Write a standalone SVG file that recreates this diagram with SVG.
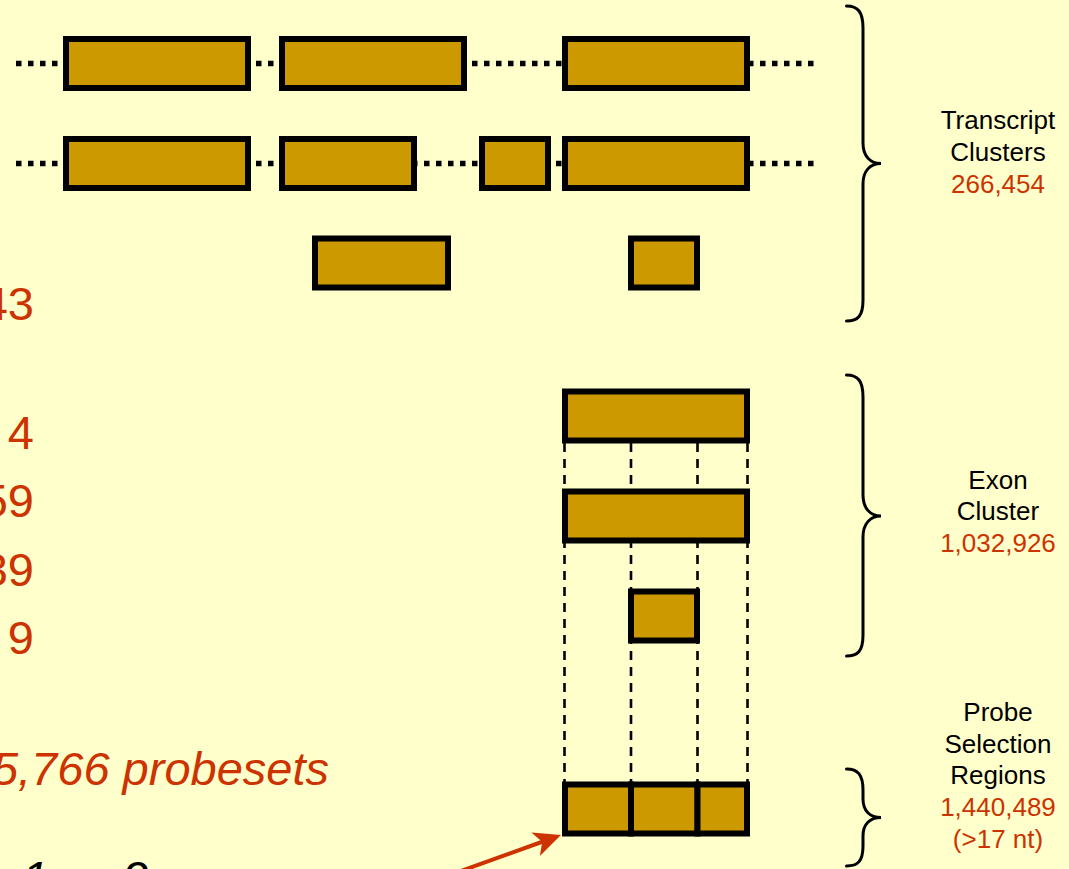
<svg xmlns="http://www.w3.org/2000/svg" width="1069" height="869" viewBox="0 0 1069 869">
  <defs>
    <style>
      .seg { fill: #CC9900; stroke: #000; stroke-width: 6; }
      .intron { stroke: #000; stroke-width: 5.5; stroke-dasharray: 5.5 6.5; fill: none; }
      .guide { stroke: #000; stroke-width: 2.6; stroke-dasharray: 9 7; fill: none; }
      .brace { stroke: #000; stroke-width: 3; fill: none; stroke-linecap: round; }
      .lbl { font-family: "Liberation Sans", Arial, sans-serif; font-size: 26px; text-anchor: middle; fill: #000; }
      .num { fill: #CC3300; }
      .big { font-family: "Liberation Sans", Arial, sans-serif; font-size: 47px; fill: #CC3300; text-anchor: end; }
      .itl { font-style: italic; }
    </style>
  </defs>

  <rect x="0" y="0" width="1069" height="869" fill="#FFFFCC"/>

  <!-- connectors: intron lines, exon guides, arrow -->
  <g id="connectors">
    <line class="intron" x1="16" y1="63.5" x2="814" y2="63.5"/>
    <line class="intron" x1="16" y1="163.5" x2="814" y2="163.5"/>
    <line class="guide" x1="564.5" y1="443" x2="564.5" y2="784"/>
    <line class="guide" x1="631" y1="443" x2="631" y2="784"/>
    <line class="guide" x1="697.5" y1="443" x2="697.5" y2="784"/>
    <line class="guide" x1="747.5" y1="443" x2="747.5" y2="784"/>
    <line x1="440" y1="878.5" x2="543" y2="841.5" stroke="#CC3300" stroke-width="4"/>
    <polygon points="561,835 531.3,832.5 542.2,841.8 539.9,856" fill="#CC3300"/>
  </g>

  <!-- transcript row 1 -->
  <g id="transcript-1">
    <rect class="seg" x="66" y="39" width="182" height="49"/>
    <rect class="seg" x="282" y="39" width="182" height="49"/>
    <rect class="seg" x="565" y="39" width="182" height="49"/>
  </g>

  <!-- transcript row 2 -->
  <g id="transcript-2">
    <rect class="seg" x="66" y="139" width="182" height="49"/>
    <rect class="seg" x="282" y="139" width="132" height="49"/>
    <rect class="seg" x="482" y="139" width="66" height="49"/>
    <rect class="seg" x="565" y="139" width="182" height="49"/>
  </g>

  <!-- transcript row 3 -->
  <g id="transcript-3">
    <rect class="seg" x="315" y="238.5" width="133" height="49"/>
    <rect class="seg" x="631" y="238.5" width="66" height="49"/>
  </g>

  <!-- exon cluster -->
  <g id="exon-cluster">
    <rect class="seg" x="565" y="391.5" width="182" height="49"/>
    <rect class="seg" x="565" y="491.5" width="182" height="49"/>
    <rect class="seg" x="631" y="591.5" width="66" height="49"/>
  </g>

  <!-- probe selection regions -->
  <g id="psr">
    <rect class="seg" x="565" y="784.5" width="66" height="49"/>
    <rect class="seg" x="631" y="784.5" width="66.5" height="49"/>
    <rect class="seg" x="697.5" y="784.5" width="49.5" height="49"/>
  </g>

  <!-- braces -->
  <g id="brace-transcript">
    <path class="brace" d="M846.5,6 C858,6 863,12 863,28 L863,143 C863,156 870,163.5 881,163.5 C870,163.5 863,171 863,184 L863,300 C863,316 858,321 846.5,321"/>
  </g>
  <g id="brace-exon">
    <path class="brace" d="M846.5,375 C858,375 863,381 863,397 L863,495 C863,508 870,516 881,516 C870,516 863,524 863,537 L863,635 C863,651 858,656 846.5,656"/>
  </g>
  <g id="brace-psr">
    <path class="brace" d="M846.5,769 C858,769 863,775 863,790 L863,799 C863,811 870,817.5 881,817.5 C870,817.5 863,824 863,836 L863,846 C863,861 858,866 846.5,866"/>
  </g>

  <!-- right-hand labels -->
  <g id="label-transcript">
    <text class="lbl" x="998" y="129">Transcript</text>
    <text class="lbl" x="998" y="161">Clusters</text>
    <text class="lbl num" x="998" y="192.5">266,454</text>
  </g>
  <g id="label-exon">
    <text class="lbl" x="998" y="488.5">Exon</text>
    <text class="lbl" x="998" y="520">Cluster</text>
    <text class="lbl num" x="998" y="551.5">1,032,926</text>
  </g>
  <g id="label-psr">
    <text class="lbl" x="998" y="721">Probe</text>
    <text class="lbl" x="998" y="752.5">Selection</text>
    <text class="lbl" x="998" y="784">Regions</text>
    <text class="lbl num" x="998" y="816">1,440,489</text>
    <text class="lbl num" x="998" y="847.5">(&gt;17 nt)</text>
  </g>

  <!-- left-hand counts -->
  <g id="counts">
    <text class="big" x="34" y="319.5">43</text>
    <text class="big" x="34" y="448.5">4</text>
    <text class="big" x="34" y="517">59</text>
    <text class="big" x="34" y="585.5">39</text>
    <text class="big" x="34" y="654">9</text>
    <text class="big itl" x="329" y="784.5">5,766 probesets</text>
    <text class="big itl" x="22" y="894" style="fill:#000;text-anchor:start">1</text>
    <text class="big itl" x="122" y="894" style="fill:#000;text-anchor:start">2</text>
  </g>
</svg>
